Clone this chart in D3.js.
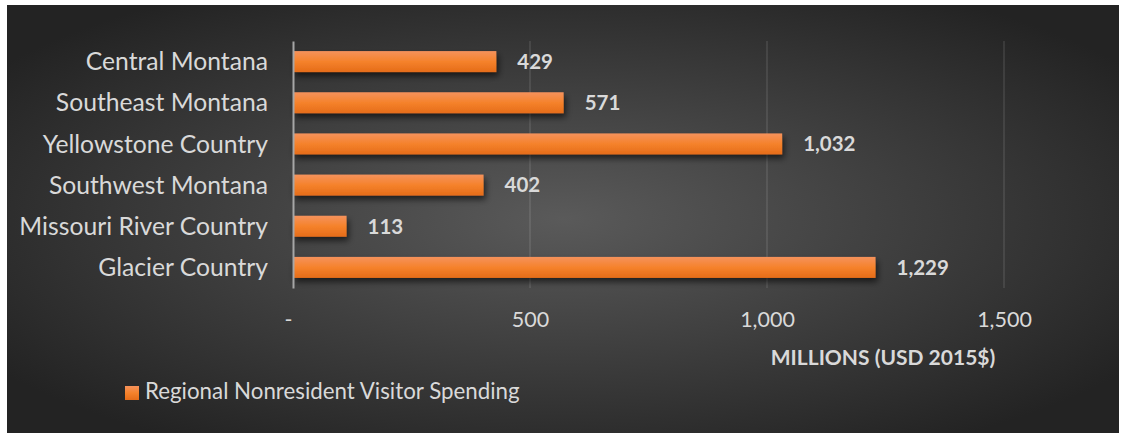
<!DOCTYPE html>
<html>
<head>
<meta charset="utf-8">
<script src="https://cdn.jsdelivr.net/npm/d3@7"></script>
<style>
  html, body { margin: 0; padding: 0; background: #ffffff; }
  svg { display: block; }
</style>
</head>
<body>
<svg id="chart" width="1121" height="433"></svg>
<script>
// Regional nonresident visitor spending, millions USD (2015$)
const regions = [
  "Central Montana",
  "Southeast Montana",
  "Yellowstone Country",
  "Southwest Montana",
  "Missouri River Country",
  "Glacier Country"
];
const spending = [429, 571, 1032, 402, 113, 1229];
const xTicks = [0, 500, 1000, 1500];
const seriesName = "Regional Nonresident Visitor Spending";
const axisTitle = "MILLIONS (USD 2015$)";

const rows = regions.map((r, i) => ({ region: r, value: spending[i] }));

const svg = d3.select("#chart");
const FONT = "Lato, 'Open Sans', sans-serif";
const TEXT = "#d9d9d9";

const defs = svg.append("defs");

// dark radial background
const bg = defs.append("radialGradient")
  .attr("id", "bgGrad")
  .attr("cx", "0.5").attr("cy", "0.5").attr("r", "0.62");
bg.append("stop").attr("offset", "0").attr("stop-color", "#5a5a5a");
bg.append("stop").attr("offset", "1").attr("stop-color", "#232323");

// orange bar fill, lighter on top
const bar = defs.append("linearGradient")
  .attr("id", "barGrad")
  .attr("x1", 0).attr("y1", 0).attr("x2", 0).attr("y2", 1);
bar.append("stop").attr("offset", "0").attr("stop-color", "#f5925c");
bar.append("stop").attr("offset", "0.5").attr("stop-color", "#f5822b");
bar.append("stop").attr("offset", "1").attr("stop-color", "#e56c19");

const shadow = defs.append("filter")
  .attr("id", "barShadow")
  .attr("x", "-10%").attr("y", "-40%").attr("width", "130%").attr("height", "200%");
shadow.append("feDropShadow")
  .attr("dx", 2).attr("dy", 4).attr("stdDeviation", 3)
  .attr("flood-color", "#000").attr("flood-opacity", 0.6);

svg.append("rect")
  .attr("x", 7).attr("y", 5)
  .attr("width", 1112).attr("height", 428)
  .attr("fill", "url(#bgGrad)");

// plot area
const plot = { left: 293, right: 1004, top: 41, bottom: 288 };

const x = d3.scaleLinear()
  .domain([0, 1500])
  .range([plot.left, plot.right]);

const y = d3.scaleBand()
  .domain(regions)
  .range([plot.top, plot.bottom])
  .paddingInner(0.49)
  .paddingOuter(0.245);

// vertical gridlines
svg.append("g")
  .selectAll("line")
  .data(xTicks.filter(t => t > 0))
  .join("line")
  .attr("x1", d => x(d)).attr("x2", d => x(d))
  .attr("y1", plot.top).attr("y2", plot.bottom)
  .attr("stroke", "#ffffff").attr("stroke-opacity", 0.12)
  .attr("stroke-width", 1.5);

// x-axis tick labels
const xAxis = d3.axisBottom(x)
  .tickValues(xTicks)
  .tickSize(0)
  .tickPadding(0)
  .tickFormat(d => d === 0 ? "-" : d3.format(",")(d));

const xg = svg.append("g")
  .attr("transform", `translate(0, ${plot.bottom})`)
  .call(xAxis);
xg.select(".domain").remove();
xg.selectAll("text")
  .attr("y", 39)
  .attr("dy", null)
  .attr("fill", TEXT)
  .attr("font-family", FONT)
  .attr("font-size", 21.5)
  .attr("dx", d => d === 0 ? -5 : 0);

// bars
svg.append("g")
  .selectAll("rect")
  .data(rows)
  .join("rect")
  .attr("x", x(0))
  .attr("y", d => y(d.region))
  .attr("width", d => x(d.value) - x(0))
  .attr("height", y.bandwidth())
  .attr("fill", "url(#barGrad)")
  .attr("filter", "url(#barShadow)");

// category axis
const yAxis = d3.axisLeft(y).tickSize(0).tickPadding(25);
const yg = svg.append("g")
  .attr("transform", `translate(${plot.left}, 0)`)
  .call(yAxis);
yg.select(".domain")
  .attr("stroke", "#a6a6a6")
  .attr("stroke-width", 2);
yg.selectAll("text")
  .attr("fill", TEXT)
  .attr("font-family", FONT)
  .attr("font-size", 24.7)
  .attr("dy", "0.35em");

// value labels
svg.append("g")
  .selectAll("text")
  .data(rows)
  .join("text")
  .attr("x", d => x(d.value) + 21)
  .attr("y", d => y(d.region) + y.bandwidth() / 2)
  .attr("dy", "0.36em")
  .attr("fill", TEXT)
  .attr("font-family", FONT)
  .attr("font-weight", "bold")
  .attr("font-size", 20.5)
  .text(d => d3.format(",")(d.value));

// axis title
svg.append("text")
  .attr("x", 883)
  .attr("y", 365)
  .attr("text-anchor", "middle")
  .attr("fill", TEXT)
  .attr("font-family", FONT)
  .attr("font-weight", "bold")
  .attr("font-size", 21)
  .text(axisTitle);

// legend
const legend = svg.append("g").attr("transform", "translate(125, 386)");
legend.append("rect")
  .attr("width", 14).attr("height", 14)
  .attr("fill", "url(#barGrad)");
legend.append("text")
  .attr("x", 20)
  .attr("y", 13)
  .attr("fill", TEXT)
  .attr("font-family", FONT)
  .attr("font-size", 22.3)
  .text(seriesName);
</script>
</body>
</html>
